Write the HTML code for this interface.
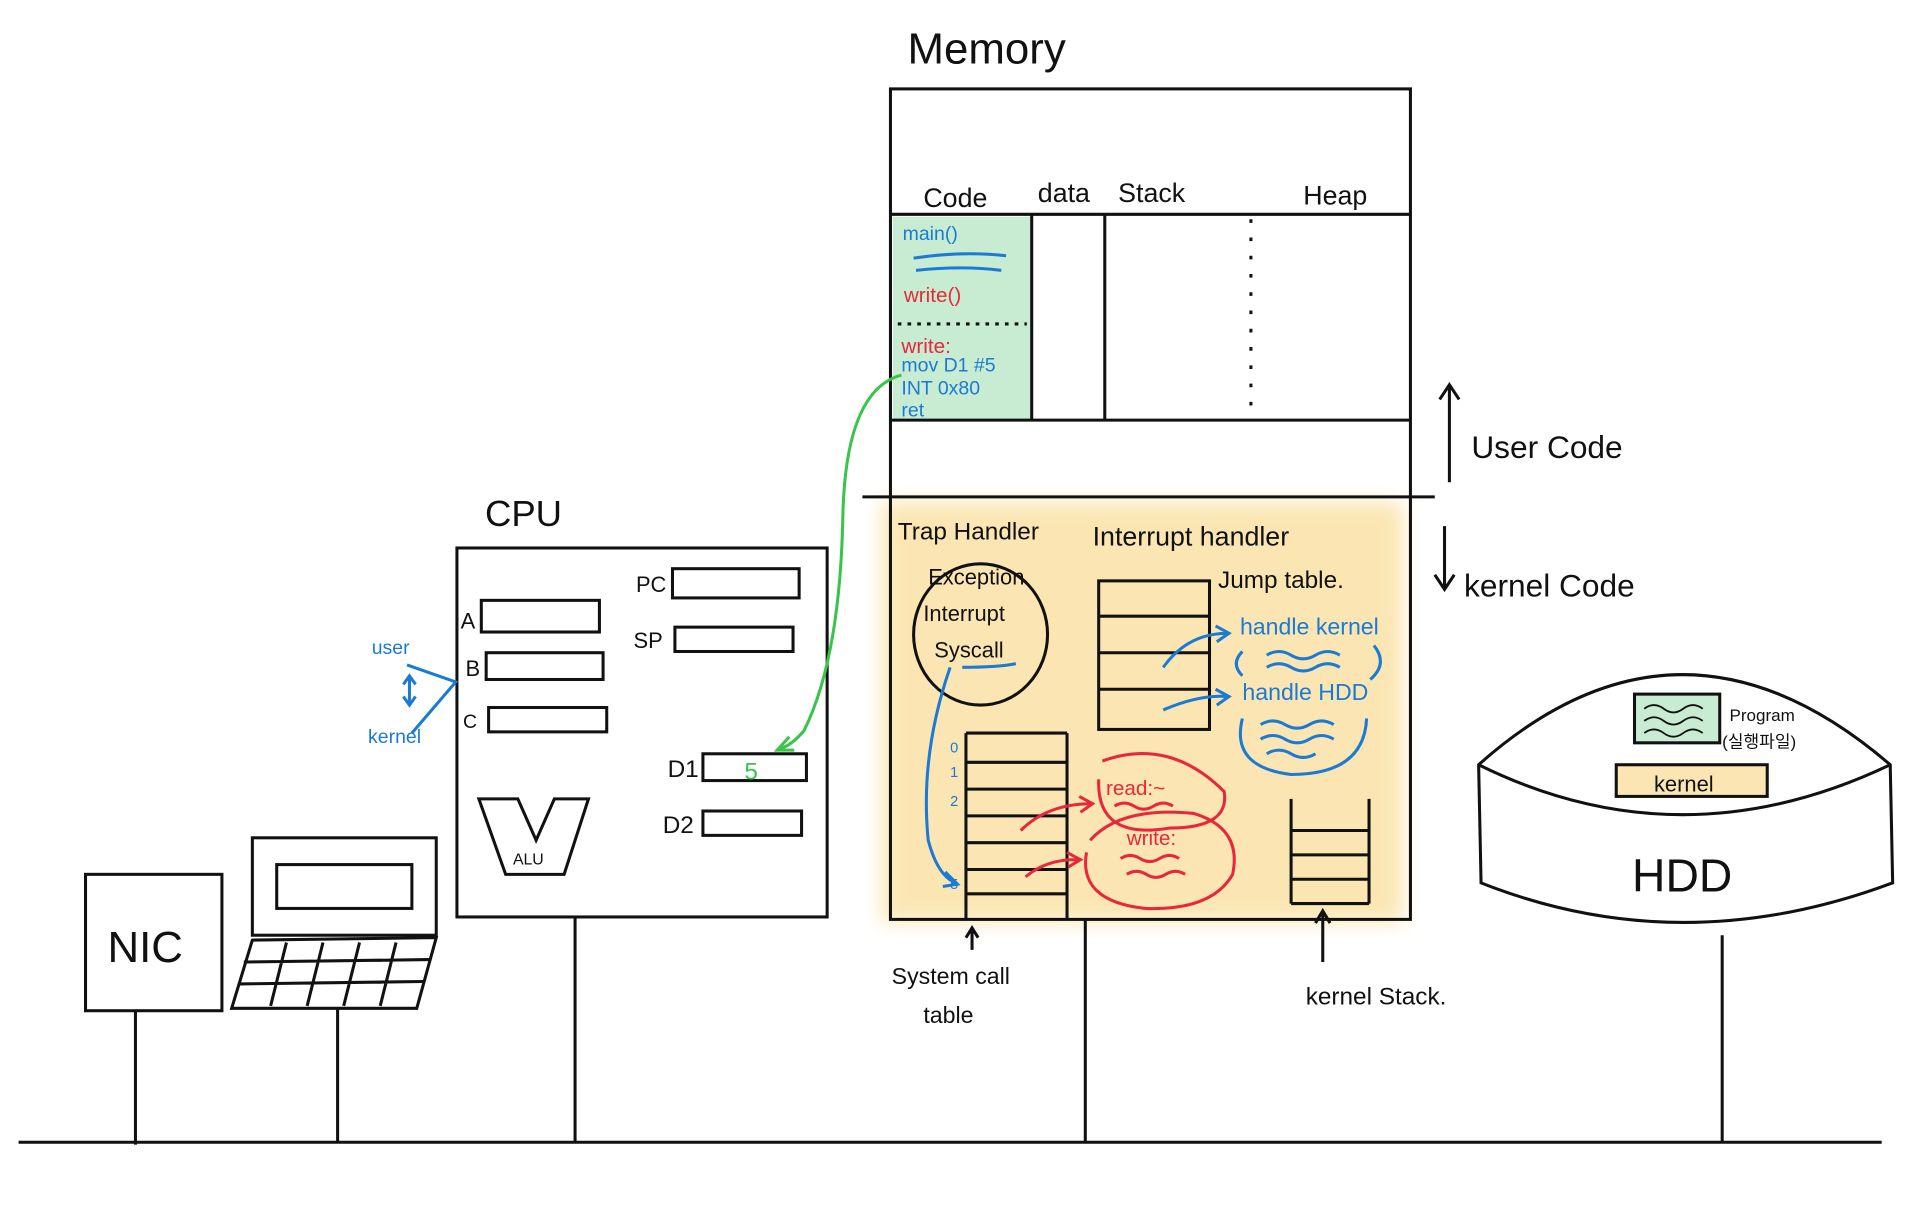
<!DOCTYPE html>
<html><head><meta charset="utf-8"><style>
html,body{margin:0;padding:0;background:#fff;}
svg{display:block}
text{font-family:"Liberation Sans","Noto Sans CJK KR",sans-serif;}
</style></head><body>
<svg width="1910" height="1208" viewBox="0 0 1568 992" xmlns="http://www.w3.org/2000/svg">
<defs><filter id="b"><feGaussianBlur stdDeviation="8"/></filter></defs>
<rect width="1568" height="992" fill="#fff"/>
<rect x="724" y="412" width="428" height="345" fill="#fbe6b3" filter="url(#b)"/>
<g stroke="#111" stroke-width="2.5" fill="none">
<line x1="15" y1="938" x2="1545" y2="938"/>
<rect x="70" y="718" width="112" height="112"/>
<line x1="111" y1="830" x2="111" y2="940"/>
<rect x="207" y="688" width="151" height="80"/>
<rect x="227" y="710" width="111" height="36"/>
<path d="M207 772 L358 770 L342 828 L190 828 Z"/>
<path d="M200 790 L352 788 M196 808 L348 806 M235 774 L222 826 M265 774 L252 826 M295 774 L282 826 M325 774 L312 826"/>
<line x1="277" y1="828" x2="277" y2="938"/>
<rect x="375" y="450" width="304" height="303"/>
<line x1="472" y1="753" x2="472" y2="938"/>
<rect x="395" y="493" width="97" height="26"/>
<rect x="399" y="536" width="96" height="22"/>
<rect x="401" y="581" width="97" height="20"/>
<rect x="552" y="467" width="104" height="24"/>
<rect x="554" y="515" width="97" height="20"/>
<rect x="577" y="619" width="85" height="22"/>
<rect x="577" y="666" width="81" height="20"/>
<path d="M393 656 L425 656 L440 690 L455 656 L483 656 L463 718 L415 718 Z"/>
<rect x="731" y="73" width="427" height="682"/>
</g>
<rect x="733" y="178" width="113" height="167" fill="#c8ecd2"/>
<g stroke="#111" stroke-width="2.5" fill="none">
<line x1="731" y1="176" x2="1158" y2="176"/>
<line x1="847" y1="176" x2="847" y2="345"/>
<line x1="907" y1="176" x2="907" y2="345"/>
<line x1="731" y1="345" x2="1158" y2="345"/>
<line x1="1027" y1="180" x2="1027" y2="342" stroke-dasharray="3 12"/>
<line x1="737" y1="266" x2="843" y2="266" stroke-dasharray="3 5"/>
<line x1="708" y1="408" x2="1178" y2="408"/>
<line x1="891" y1="755" x2="891" y2="938"/>
<path d="M1190 318 L1190 396 M1182 328 L1190 316 L1198 328"/>
<path d="M1186 432 L1186 482 M1178 472 L1186 484 L1194 472"/>
<rect x="902" y="477" width="91" height="122"/>
<path d="M902 506 H993 M902 536 H993 M902 566 H993"/>
<path d="M793 602 V755 M876 602 V755 M793 602 H876 M793 626 H876 M793 648 H876 M793 670 H876 M793 692 H876 M793 714 H876 M793 734 H876"/>
<path d="M1060 656 V742 M1124 656 V742 M1060 682 H1124 M1060 702 H1124 M1060 722 H1124 M1060 742 H1124"/>
<path d="M1086 790 L1086 748 M1080 758 L1086 748 L1092 758"/>
<path d="M798 780 L798 764 M793 770 L798 762 L803 770"/>
<ellipse cx="805" cy="521" rx="55" ry="58"/>
<path d="M1214 628 Q1380 480 1552 628 L1554 725 Q1380 790 1216 725 Z"/>
<path d="M1214 628 Q1380 710 1552 628"/>
<line x1="1414" y1="768" x2="1414" y2="938"/>
</g>
<rect x="1342" y="570" width="70" height="40" fill="#c8ecd2" stroke="#111" stroke-width="2.5"/>
<path d="M1350 582 q8 -6 16 0 t16 0 t16 0 M1350 592 q8 -6 16 0 t16 0 t16 0 M1350 602 q8 -6 16 0 t16 0 t16 0" stroke="#111" stroke-width="1.5" fill="none"/>
<rect x="1327" y="628" width="124" height="26" fill="#fbe6b3" stroke="#111" stroke-width="2.5"/>
<g stroke="#1a7ad4" stroke-width="2.5" fill="none">
<path d="M750 212 Q790 206 826 210 M752 222 Q790 218 822 222"/>
<path d="M790 548 Q820 548 834 545"/>
<path d="M780 548 Q755 620 762 690 Q770 720 785 725 M776 716 L786 726 L774 728"/>
<path d="M334 546 L374 560 L338 602"/>
<path d="M336 556 V578 M331 562 L336 555 L341 562 M331 572 L336 579 L341 572"/>
<path d="M955 548 Q975 520 1008 520 M998 514 L1009 520 L999 527 M955 583 Q985 570 1008 572 M998 566 L1009 572 L999 579"/>
<path d="M1020 535 Q1010 545 1020 555 M1128 530 Q1140 545 1125 558"/>
<path d="M1020 590 Q1010 630 1060 636 Q1120 636 1122 590"/>
<path d="M1040 538 q10 -6 20 0 t20 0 t20 0 M1040 548 q10 -6 20 0 t20 0 t20 0 M1035 595 q10 -6 20 0 t20 0 t20 0 M1035 607 q10 -6 20 0 t20 0 t20 0 M1040 619 q10 -6 20 0 t20 0"/>
</g>
<g stroke="#e8283a" stroke-width="2.5" fill="none">
<path d="M905 625 Q960 605 1005 650 Q1010 680 960 680 Q900 690 902 640"/>
<path d="M895 690 Q920 662 980 668 Q1020 680 1012 718 Q995 748 940 746 Q885 740 892 700"/>
<path d="M838 682 Q860 660 896 660 M886 654 L897 660 L887 667 M842 720 Q860 705 886 706 M876 700 L887 706 L877 712"/>
<path d="M915 662 q8 -5 16 0 t16 0 t16 0 M920 705 q8 -5 16 0 t16 0 t16 0 M925 718 q8 -5 16 0 t16 0 t16 0"/>
</g>
<path d="M740 308 Q695 320 692 420 Q690 540 660 600 Q650 612 640 615 M648 605 L638 616 L652 616" stroke="#39c44a" stroke-width="2.5" fill="none"/>
<g font-size="22" fill="#111">
<text x="745" y="52" font-size="36">Memory</text>
<text x="398" y="432" font-size="30">CPU</text>
<text x="758" y="170">Code</text>
<text x="852" y="166">data</text>
<text x="918" y="166">Stack</text>
<text x="1070" y="168">Heap</text>
<text x="1208" y="376" font-size="26">User Code</text>
<text x="1202" y="490" font-size="26">kernel Code</text>
<text x="737" y="443" font-size="20">Trap Handler</text>
<text x="897" y="448" font-size="22">Interrupt handler</text>
<text x="1000" y="483" font-size="20">Jump table.</text>
<text x="762" y="480" font-size="18">Exception</text>
<text x="758" y="510" font-size="18">Interrupt</text>
<text x="767" y="540" font-size="18">Syscall</text>
<text x="732" y="808" font-size="19">System call</text>
<text x="758" y="840" font-size="19">table</text>
<text x="1072" y="825" font-size="20">kernel Stack.</text>
<text x="88" y="790" font-size="36">NIC</text>
<text x="1340" y="732" font-size="38">HDD</text>
<text x="1358" y="650" font-size="18">kernel</text>
<text x="1420" y="592" font-size="14">Program</text>
<text x="1414" y="614" font-size="14">(실행파일)</text>
<text x="421" y="710" font-size="13">ALU</text>
<text x="378" y="516" font-size="18">A</text>
<text x="382" y="555" font-size="18">B</text>
<text x="380" y="598" font-size="16">C</text>
<text x="522" y="486" font-size="18">PC</text>
<text x="520" y="532" font-size="18">SP</text>
<text x="548" y="638" font-size="20">D1</text>
<text x="544" y="684" font-size="20">D2</text>
<text x="611" y="640" font-size="20" fill="#39c44a">5</text>
<text x="780" y="618" font-size="12" fill="#1a7ad4">0</text>
<text x="780" y="638" font-size="12" fill="#1a7ad4">1</text>
<text x="780" y="662" font-size="12" fill="#1a7ad4">2</text>
<text x="780" y="730" font-size="12" fill="#1a7ad4">5</text>
</g>
<g fill="#1a7ad4" font-size="16">
<text x="741" y="197">main()</text>
<text x="740" y="305">mov D1 #5</text>
<text x="740" y="324">INT 0x80</text>
<text x="740" y="342">ret</text>
<text x="305" y="537">user</text>
<text x="302" y="610">kernel</text>
<text x="1018" y="521" font-size="19">handle kernel</text>
<text x="1020" y="575" font-size="19">handle HDD</text>
</g>
<g fill="#e8283a" font-size="17">
<text x="742" y="248">write()</text>
<text x="740" y="290">write:</text>
<text x="908" y="653">read:~</text>
<text x="925" y="694">write:</text>
</g>
</svg>
</body></html>
